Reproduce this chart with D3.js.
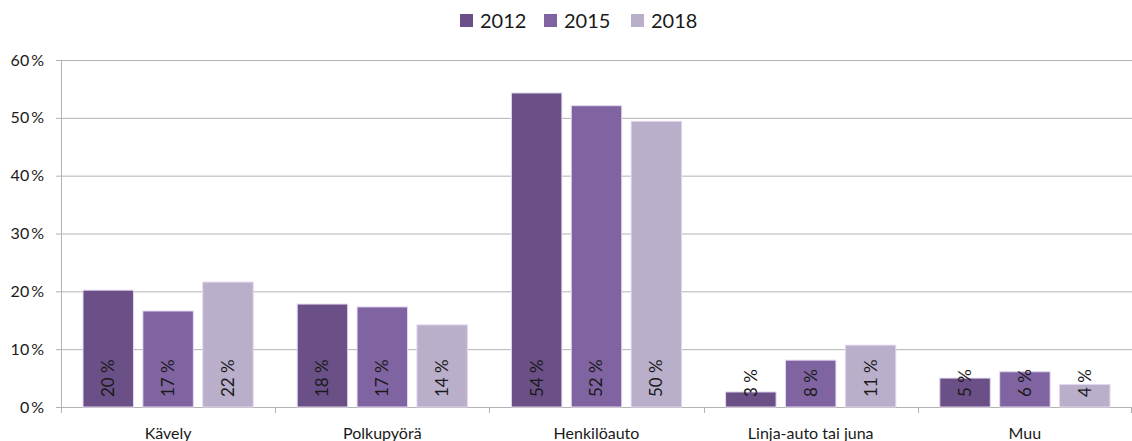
<!DOCTYPE html>
<html><head><meta charset="utf-8">
<script src="https://cdn.jsdelivr.net/npm/d3@7"></script>
<style>body{margin:0;background:#fff}svg{display:block}text{font-family:Lato,"Open Sans",sans-serif;fill:#1a1a1a}</style>
</head><body><svg id="c" width="1132" height="441"></svg>
<script>
const categories = ["Kävely","Polkupyörä","Henkilöauto","Linja-auto tai juna","Muu"];
const seriesNames = ["2012","2015","2018"];
const v2012 = [20.2,17.8,54.3,2.6,5.0];
const v2015 = [16.6,17.3,52.1,8.1,6.1];
const v2018 = [21.6,14.2,49.4,10.7,3.9];
const labels2012 = ["20 %","18 %","54 %","3 %","5 %"];
const labels2015 = ["17 %","17 %","52 %","8 %","6 %"];
const labels2018 = ["22 %","14 %","50 %","11 %","4 %"];
const yTicks = [0,10,20,30,40,50,60];
const colors = ["#6a5086","#8064a2","#b9afcb"];

(function(){
const values = [v2012,v2015,v2018];
const labs = [labels2012,labels2015,labels2018];
const svg = d3.select("#c");
const pL=61,pR=1132,pT=60,pB=407;
const x0 = d3.scaleBand().domain(categories).range([pL,pR]).padding(0);
const x1 = d3.scaleBand().domain(seriesNames).range([22, x0.bandwidth()-22]).paddingInner(0.157).paddingOuter(0);
const y = d3.scaleLinear().domain([0,60]).range([pB,pT]);

svg.append("g").selectAll("line").data(yTicks).join("line")
 .attr("x1",pL-5).attr("x2",pR).attr("y1",d=>y(d)+0.5).attr("y2",d=>y(d)+0.5)
 .attr("stroke","#b3b3b3").attr("stroke-width",1);
svg.append("line").attr("x1",pL+0.5).attr("x2",pL+0.5).attr("y1",pT).attr("y2",pB+0.5).attr("stroke","#b3b3b3");
const catTicks = categories.map(c=>x0(c)).concat([pR-1]);
svg.append("g").selectAll("line").data(catTicks).join("line")
 .attr("x1",d=>Math.round(d)+0.5).attr("x2",d=>Math.round(d)+0.5).attr("y1",pB).attr("y2",pB+6)
 .attr("stroke","#b3b3b3");
svg.append("g").selectAll("text").data(yTicks).join("text")
 .attr("x",44).attr("y",d=>y(d)).attr("dy","0.35em").attr("text-anchor","end")
 .attr("font-size",16).text(d=>d+"\u2009%");
svg.append("g").selectAll("text").data(categories).join("text")
 .attr("x",d=>x0(d)+x0.bandwidth()/2).attr("y",433).attr("dy","0.35em").attr("text-anchor","middle")
 .attr("font-size",16).text(d=>d);

seriesNames.forEach((s,si)=>{
  const g = svg.append("g");
  g.selectAll("rect").data(categories).join("rect")
   .attr("x",c=>x0(c)+x1(s)).attr("width",x1.bandwidth())
   .attr("y",(c,i)=>y(values[si][i])).attr("height",(c,i)=>y(0)-y(values[si][i]))
   .attr("fill",colors[si]).attr("stroke","#e4d8f0").attr("stroke-width",1);
  g.selectAll("text").data(categories).join("text")
   .attr("transform",c=>`translate(${x0(c)+x1(s)+x1.bandwidth()/2},${pB-10}) rotate(-90)`)
   .attr("dy","0.35em").attr("text-anchor","start").attr("font-size",17)
   .text((c,i)=>labs[si][i]);
});

const legX = [460,544,631];
const lg = svg.append("g");
seriesNames.forEach((s,i)=>{
  lg.append("rect").attr("x",legX[i]).attr("y",14).attr("width",13).attr("height",13).attr("fill",colors[i]);
  lg.append("text").attr("x",legX[i]+20).attr("y",21).attr("dy","0.35em").attr("font-size",20).text(s);
});
})();
</script></body></html>
